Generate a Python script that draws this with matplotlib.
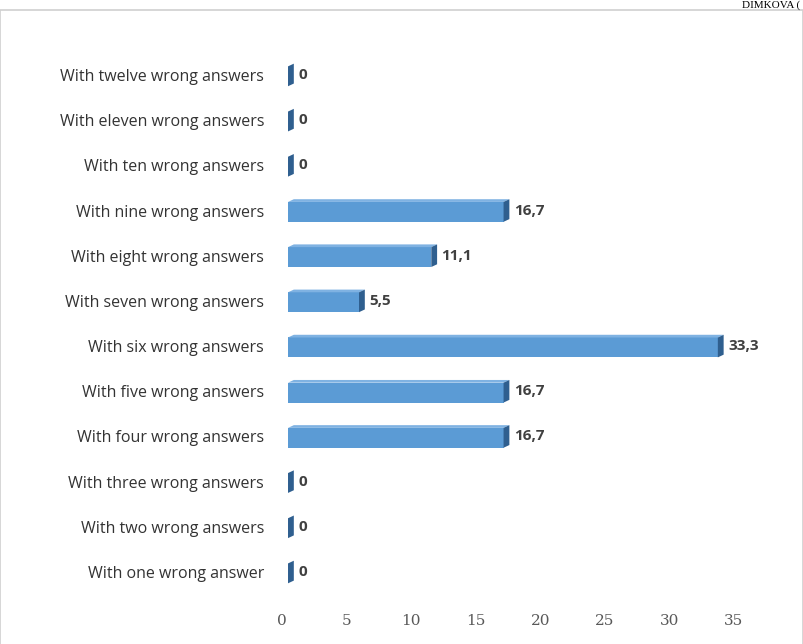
import matplotlib
matplotlib.use("Agg")
import matplotlib.pyplot as plt
from matplotlib.patches import Polygon, Rectangle

categories = ["With one wrong answer", "With two wrong answers", "With three wrong answers",
              "With four wrong answers", "With five wrong answers", "With six wrong answers",
              "With seven wrong answers", "With eight wrong answers", "With nine wrong answers",
              "With ten wrong answers", "With eleven wrong answers", "With twelve wrong answers"]
values = [0, 0, 0, 16.7, 16.7, 33.3, 5.5, 11.1, 16.7, 0, 0, 0]
value_labels = ["0", "0", "0", "16,7", "16,7", "33,3", "5,5", "11,1", "16,7", "0", "0", "0"]
xticks = [0, 5, 10, 15, 20, 25, 30, 35]

fig = plt.figure(figsize=(8.04, 6.44), dpi=100)
ax = fig.add_axes([0.351, 0.0767, 0.594, 0.842])
ax.set_xlim(0, 37)
ax.set_ylim(-0.5, len(categories) - 0.5)

front = "#5b9bd5"
top_c = "#7fb2e2"
side = "#2f5f8f"
x0 = 0.45
dx, dy = 0.45, 0.06
for i, v in enumerate(values):
    y0, y1 = i - 0.25, i + 0.19
    ax.add_patch(Rectangle((x0, y0), v, y1 - y0, facecolor=front, edgecolor="none"))
    ax.add_patch(Polygon([(x0, y1), (x0 + v, y1), (x0 + v + dx, y1 + dy), (x0 + dx, y1 + dy)],
                         closed=True, facecolor=top_c, edgecolor="none"))
    ax.add_patch(Polygon([(x0 + v, y0), (x0 + v + dx, y0 + dy), (x0 + v + dx, y1 + dy), (x0 + v, y1)],
                         closed=True, facecolor=side, edgecolor="none"))
    ax.text(x0 + v + dx + 0.35, i, value_labels[i], va="center", ha="left",
            fontsize=11, fontweight="bold", color="#404040", family="Open Sans")

ax.set_yticks(range(len(categories)))
ax.set_yticklabels(categories, fontsize=11.5, color="#333333", family="Open Sans")
ax.set_xticks(xticks)
ax.set_xticklabels([str(t) for t in xticks], fontsize=11, color="#595959", family="DejaVu Serif")
ax.tick_params(axis="both", length=0)
ax.tick_params(axis="y", pad=13)
ax.tick_params(axis="x", pad=14)
for s in ax.spines.values():
    s.set_visible(False)

# figure frame and header text
top = 1 - 10 / 644
fig.add_artist(Rectangle((0.0, -0.01), 0.999, top + 0.01, transform=fig.transFigure,
                         fill=False, edgecolor="#d0d0d0", linewidth=1.2))
fig.text(0.995, 1.0, "DIMKOVA (", ha="right", va="top", fontsize=8,
         family="Liberation Serif", color="#000000")

fig.savefig("out.png", dpi=100)
